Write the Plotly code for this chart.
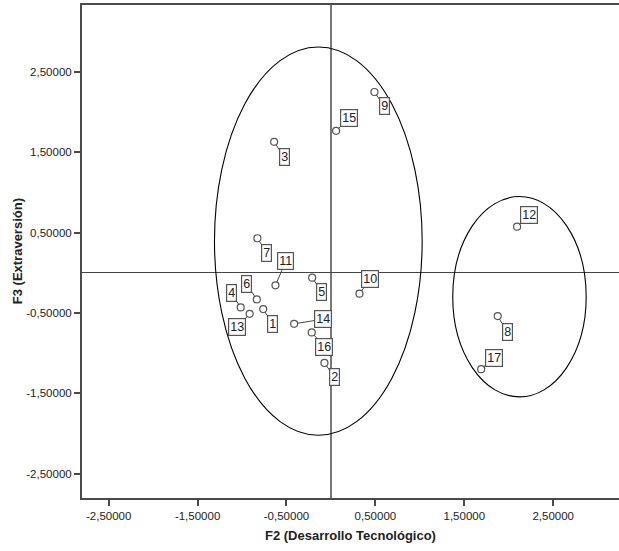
import plotly.graph_objects as go

# ---- data ----
case_ids = ["1", "2", "3", "4", "5", "6", "7", "8", "9", "10",
            "11", "12", "13", "14", "15", "16", "17"]
f2_values = [-0.762, -0.073, -0.639, -1.015, -0.211, -0.834, -0.827, 1.876, 0.489, 0.321,
             -0.624, 2.094, -0.914, -0.414, 0.058, -0.216, 1.690]
f3_values = [-0.451, -1.120, 1.629, -0.430, -0.061, -0.331, 0.430, -0.538, 2.248, -0.259,
             -0.156, 0.574, -0.510, -0.634, 1.766, -0.741, -1.198]

tick_values = [-2.5, -1.5, -0.5, 0.5, 1.5, 2.5]
tick_labels = ["-2,50000", "-1,50000", "-0,50000", "0,50000", "1,50000", "2,50000"]

# cluster ellipses (bounding boxes in data units)
ellipse_x0 = [-1.310, 1.370]
ellipse_x1 = [1.026, 2.871]
ellipse_y0 = [-2.020, -1.543]
ellipse_y1 = [2.808, 0.948]

# ---- label box placement (pixels from point) ----
label_dx = [9.3, 10, 10, -9.6, 9.7, -10.3, 9.3, 9.4, 9.7, 10.7,
            10.3, 12.3, -12.3, 29.3, 12.6, 12.7, 12.6]
label_dy = [14.7, 14.3, 15.3, -14.6, 14, -15.3, 14.4, 15.7, 14, -14.4,
            -24, -11.4, 13.6, -4.7, -12.3, 14.7, -11.3]

FONT = "Arial, Liberation Sans, sans-serif"
AX = "#4a4a4a"

fig = go.Figure()
fig.add_trace(go.Scatter(
    x=f2_values, y=f3_values, mode="markers",
    marker=dict(symbol="circle-open", size=7, color="#555555", line=dict(width=1.2)),
    hoverinfo="skip", showlegend=False))

shapes = []
for x0, x1, y0, y1 in zip(ellipse_x0, ellipse_x1, ellipse_y0, ellipse_y1):
    shapes.append(dict(type="circle", xref="x", yref="y", x0=x0, x1=x1, y0=y0, y1=y1,
                       line=dict(color="black", width=1.1), layer="above"))

annotations = []
for cid, x, y, dx, dy in zip(case_ids, f2_values, f3_values, label_dx, label_dy):
    annotations.append(dict(
        x=x, y=y, xref="x", yref="y", text=cid, showarrow=True,
        ax=dx, ay=dy, arrowhead=0, arrowwidth=1, arrowcolor="#444444", standoff=3.5,
        font=dict(family=FONT, size=12.5, color="#222222"),
        bordercolor="#555555", borderwidth=1.2, borderpad=1, bgcolor="white"))

annotations.append(dict(
    text="F2 (Desarrollo Tecnológico)", xref="paper", yref="paper", x=0.5, y=-0.077,
    xanchor="center", yanchor="middle", showarrow=False,
    font=dict(family=FONT, size=13, color="#222222", weight="bold")))
annotations.append(dict(
    text="F3 (Extraversión)", xref="paper", yref="paper", x=-0.1197, y=0.5,
    xanchor="center", yanchor="middle", showarrow=False, textangle=-90,
    font=dict(family=FONT, size=13, color="#222222", weight="bold")))

fig.update_layout(
    width=619, height=551,
    margin=dict(l=82, r=0, t=5, b=53),
    paper_bgcolor="white", plot_bgcolor="white",
    shapes=shapes, annotations=annotations,
    xaxis=dict(range=[-2.80, 3.24], tickvals=tick_values, ticktext=tick_labels,
               showgrid=False, zeroline=True, zerolinecolor="#777777", zerolinewidth=1.8,
               showline=True, linecolor=AX, linewidth=2, mirror=True,
               ticks="outside", ticklen=6, tickwidth=1.5, tickcolor=AX,
               tickfont=dict(family=FONT, size=11.5, color="#222222")),
    yaxis=dict(range=[-2.80, 3.33], tickvals=tick_values, ticktext=tick_labels,
               showgrid=False, zeroline=True, zerolinecolor="#444444", zerolinewidth=1.3,
               showline=True, linecolor=AX, linewidth=2, mirror=False,
               ticks="outside", ticklen=6, tickwidth=1.5, tickcolor=AX,
               tickfont=dict(family=FONT, size=11.5, color="#222222")),
)

fig.write_html("out.html", config={"displayModeBar": False},
               post_script="document.body.style.margin='0px';document.body.style.overflow='hidden';")
